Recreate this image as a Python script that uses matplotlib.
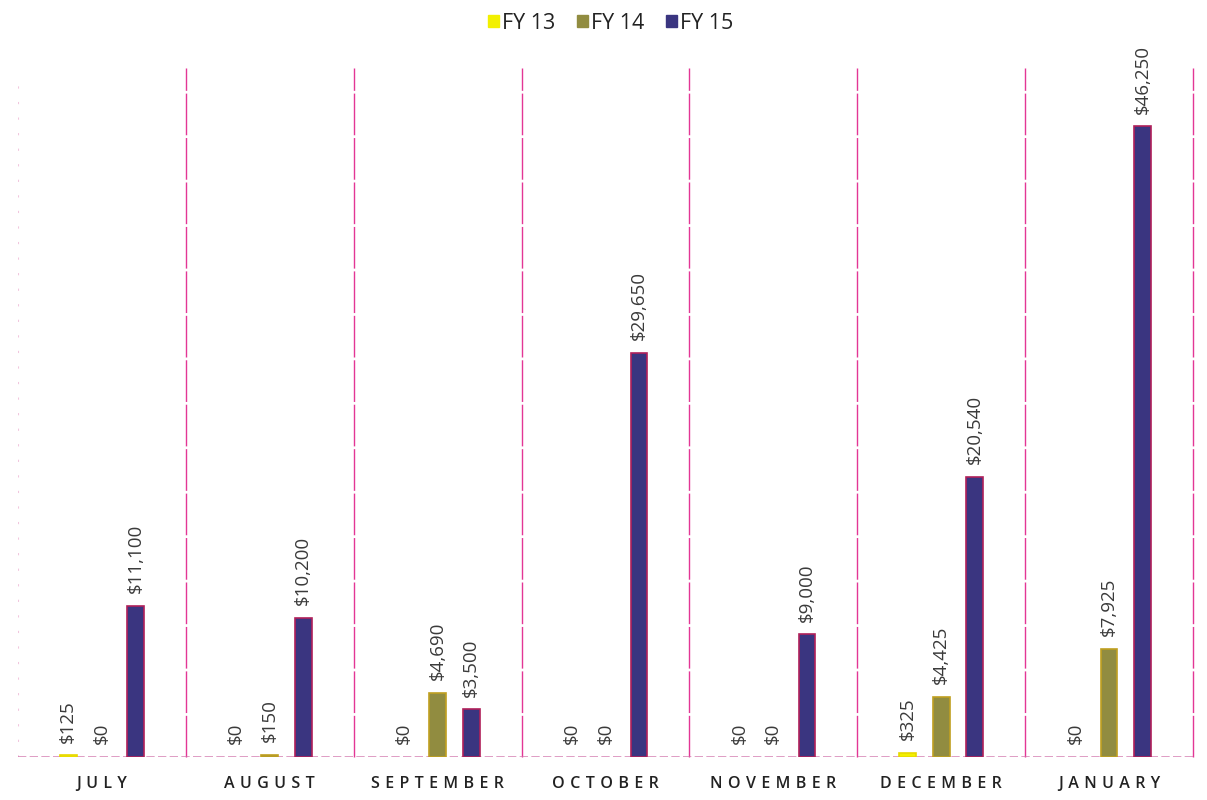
import matplotlib
matplotlib.use("Agg")
import matplotlib.pyplot as plt
from matplotlib.patches import Patch
import numpy as np

months = ["JULY", "AUGUST", "SEPTEMBER", "OCTOBER", "NOVEMBER", "DECEMBER", "JANUARY"]
series_names = ["FY 13", "FY 14", "FY 15"]
fy13 = [125, 0, 0, 0, 0, 325, 0]
fy14 = [0, 150, 4690, 0, 0, 4425, 7925]
fy15 = [11100, 10200, 3500, 29650, 9000, 20540, 46250]

face_colors = ["#F2F000", "#918C40", "#3A3580"]
edge_colors = ["#E8D800", "#C0A020", "#B0205A"]

plt.rcParams["font.family"] = ["Open Sans", "DejaVu Sans"]

fig = plt.figure(figsize=(12.07, 8.0), dpi=100)
ax = fig.add_axes([0.0149, 0.0538, 0.9735, 0.8525])

x = np.arange(len(months))
width = 0.1
offsets = [-0.2, 0.0, 0.2]
for vals, off, fc, ec in zip([fy13, fy14, fy15], offsets, face_colors, edge_colors):
    lws = [1.2 if v > 0 else 0 for v in vals]
    bars = ax.bar(x + off, vals, width, color=fc, edgecolor=ec, linewidth=lws, zorder=3)
    for b, v in zip(bars, vals):
        ax.annotate(f"${v:,}", (b.get_x() + b.get_width() / 2, v),
                    xytext=(0, 9), textcoords="offset points",
                    rotation=90, ha="center", va="bottom",
                    fontsize=13.5, color="#3a3a3a", zorder=4)

ax.set_xlim(-0.5, len(months) - 0.5)
ax.set_ylim(0, 50000)

# category separators
ax.vlines(np.arange(0.5, len(months), 1.0), 0, 50500, color="#E0208A", lw=1.0,
          linestyles=[(0, (30, 2))], alpha=0.9, zorder=1, clip_on=False)
ax.axvline(-0.5, color="#E8A0C8", lw=0.8, ls=(0, (2, 12)), alpha=0.6, zorder=1)
ax.axhline(0, color="#D070A8", lw=1.2, ls=(0, (5, 2)), alpha=0.8, zorder=2)

for s in ax.spines.values():
    s.set_visible(False)
ax.set_yticks([])
ax.set_xticks(x)
gap = "\u2004"
ax.set_xticklabels([gap.join(m) for m in months], fontsize=11.5,
                   color="#222222", fontweight="semibold",
                   family=["Open Sans", "DejaVu Sans"])
ax.tick_params(axis="x", length=0, pad=14)

handles = [Patch(facecolor=fc, edgecolor=fc) for fc in face_colors]
fig.legend(handles, series_names, loc="upper center", bbox_to_anchor=(0.506, 1.008),
           ncol=3, frameon=False, fontsize=15.5, handlelength=0.5, handleheight=0.5,
           handletextpad=0.15, columnspacing=1.0, labelcolor="#222222")

fig.savefig("out.png", dpi=100, facecolor="white")
